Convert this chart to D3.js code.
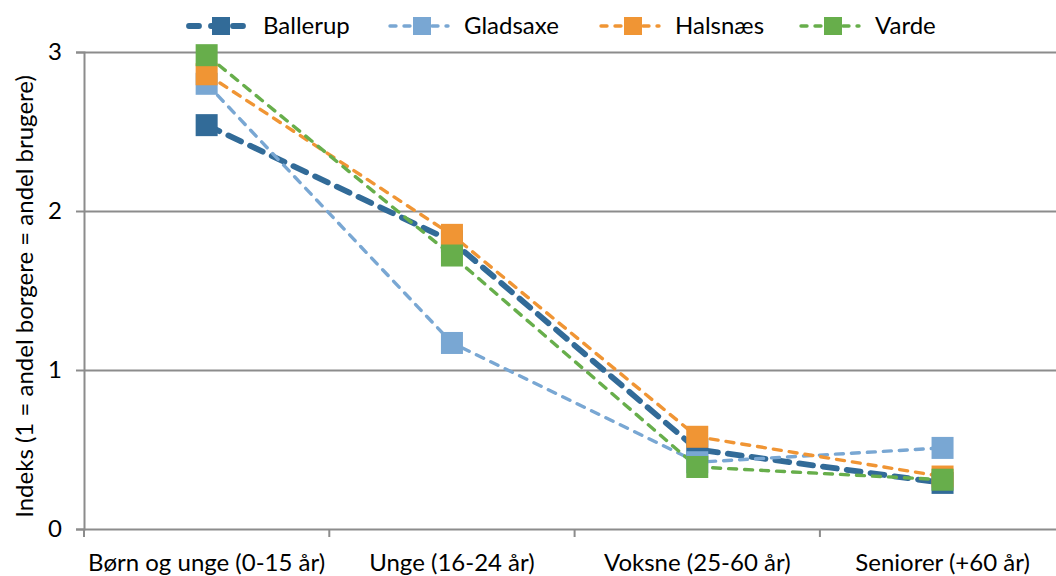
<!DOCTYPE html>
<html>
<head>
<meta charset="utf-8">
<script src="https://cdn.jsdelivr.net/npm/d3@7"></script>
<style>
  html, body { margin: 0; padding: 0; background: #fff; }
  svg { display: block; font-family: Lato, "Open Sans", sans-serif; }
</style>
</head>
<body>
<svg id="chart" width="1056" height="576"></svg>
<script>
const categories = ["Børn og unge (0-15 år)", "Unge (16-24 år)", "Voksne (25-60 år)", "Seniorer (+60 år)"];
const seriesNames = ["Ballerup", "Gladsaxe", "Halsnæs", "Varde"];
const ballerup = [2.54, 1.81, 0.50, 0.29];
const gladsaxe = [2.80, 1.17, 0.42, 0.51];
const halsnaes = [2.86, 1.85, 0.58, 0.33];
const varde    = [2.98, 1.72, 0.39, 0.31];
const yTicks = [0, 1, 2, 3];
const colors = ["#326b98", "#79a7d3", "#f09534", "#67ae4b"];

const series = [
  { name: seriesNames[0], values: ballerup, color: colors[0], width: 5.8, dash: "14 10" },
  { name: seriesNames[1], values: gladsaxe, color: colors[1], width: 3.4, dash: "8 8" },
  { name: seriesNames[2], values: halsnaes, color: colors[2], width: 3.4, dash: "8 8" },
  { name: seriesNames[3], values: varde,    color: colors[3], width: 3.4, dash: "8 8" }
];

const svg = d3.select("#chart");
const mLeft = 84, mTop = 52, mBottom = 529, band = 245.3;
const x = d3.scaleBand().domain(categories).range([mLeft, mLeft + band * categories.length]).padding(0);
const y = d3.scaleLinear().domain([0, 3]).range([mBottom, mTop]);
const grid = "#8c8c8c";
const fontSize = 24;

// gridlines + y axis
const yAxis = d3.axisLeft(y).tickValues(yTicks).tickSize(8).tickPadding(14).tickFormat(d3.format("d"));
const gy = svg.append("g").attr("transform", `translate(${mLeft},0)`).call(yAxis);
gy.select(".domain").attr("stroke", grid).attr("stroke-width", 2);
gy.selectAll(".tick line").attr("stroke", grid).attr("stroke-width", 2);
gy.selectAll(".tick text").attr("font-size", fontSize).attr("fill", "#000").attr("font-family", "Lato");
gy.selectAll(".tick").append("line")
  .attr("x1", 0).attr("x2", 1056 - mLeft).attr("y1", 0).attr("y2", 0)
  .attr("stroke", grid).attr("stroke-width", 2);

// x axis
const xAxis = d3.axisBottom(x).tickSize(0).tickPadding(25);
const gx = svg.append("g").attr("transform", `translate(0,${mBottom})`).call(xAxis);
gx.select(".domain").remove();
gx.selectAll(".tick text").attr("font-size", fontSize).attr("fill", "#000").attr("font-family", "Lato");
gx.selectAll(".bound").data(categories).enter().append("line")
  .attr("x1", d => x(d)).attr("x2", d => x(d))
  .attr("y1", 0).attr("y2", 8)
  .attr("stroke", grid).attr("stroke-width", 2);

// y-axis title
svg.append("text")
  .attr("transform", `translate(33,${(mTop + mBottom) / 2 + 6}) rotate(-90)`)
  .attr("text-anchor", "middle")
  .attr("font-size", fontSize)
  .attr("fill", "#000")
  .text("Indeks (1 = andel borgere = andel brugere)");

// lines
const line = d3.line()
  .x((d, i) => x(categories[i]) + x.bandwidth() / 2)
  .y(d => y(d));

const ms = 22;
series.forEach(s => {
  svg.append("path")
    .datum(s.values)
    .attr("d", line)
    .attr("fill", "none")
    .attr("stroke", s.color)
    .attr("stroke-width", s.width)
    .attr("stroke-dasharray", s.dash)
    .attr("stroke-linecap", "round");
});
series.forEach(s => {
  svg.append("g").selectAll("rect").data(s.values).enter().append("rect")
    .attr("x", (d, i) => x(categories[i]) + x.bandwidth() / 2 - ms / 2)
    .attr("y", d => y(d) - ms / 2)
    .attr("width", ms).attr("height", ms)
    .attr("fill", s.color);
});

// legend
const legendX = [186, 387, 598, 798];
const leg = svg.append("g").selectAll("g").data(series).enter().append("g")
  .attr("transform", (d, i) => `translate(${legendX[i]},26)`);
leg.append("line")
  .attr("x1", 3).attr("x2", 61).attr("y1", 0).attr("y2", 0)
  .attr("stroke", d => d.color)
  .attr("stroke-width", d => d.width)
  .attr("stroke-dasharray", (d, i) => i === 0 ? "10 12" : "6 8")
  .attr("stroke-linecap", "round");
leg.append("rect")
  .attr("x", 26).attr("y", -9).attr("width", 18).attr("height", 18)
  .attr("fill", d => d.color);
leg.append("text")
  .attr("x", 77).attr("y", 8)
  .attr("font-size", fontSize)
  .attr("fill", "#000")
  .text(d => d.name);
</script>
</body>
</html>
